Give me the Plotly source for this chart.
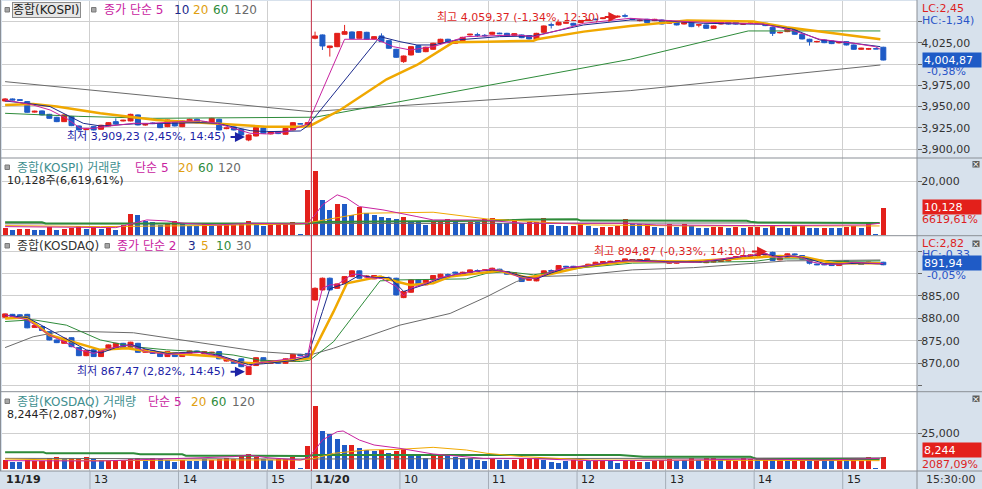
import plotly.graph_objects as go
from plotly.subplots import make_subplots

# ================= DATA =================
day1_times = [f"{h}:{m:02d}" for h in (12, 13, 14) for m in range(0, 60, 5)] + ["15:00", "15:05", "15:10", "15:15", "15:20", "15:30"]
day2_times = [f"{h}:{m:02d}" for h in range(9, 15) for m in range(0, 60, 5)] + ["15:00", "15:05", "15:10", "15:15", "15:20", "15:30"]
times = day1_times + day2_times
dates = ["11/19"] * len(day1_times) + ["11/20"] * len(day2_times)
xpos = list(range(len(times)))

kospi_open = [
    3956.6, 3959.0, 3958.2, 3955.9, 3943.5, 3944.9, 3940.9, 3937.4, 3932.3, 3938.2,
    3927.2, 3922.9, 3926.4, 3923.3, 3927.2, 3932.3, 3933.1, 3933.1, 3940.2, 3928.4,
    3930.7, 3929.6, 3926.4, 3933.5, 3926.4, 3932.3, 3935.1, 3932.3, 3930.3, 3935.1,
    3924.0, 3926.0, 3923.3, 3910.7, 3915.4, 3924.8, 3917.8, 3920.5, 3917.4, 3922.5,
    3929.8, 3928.4,
    4030.5, 4034.4, 4019.5, 4020.6, 4035.2, 4037.9, 4030.5, 4037.5, 4029.7, 4033.2,
    4027.7, 4017.5, 4003.0, 4010.8, 4021.8, 4014.7, 4017.5, 4024.6, 4029.3, 4024.6,
    4027.7, 4034.4, 4034.6, 4033.9, 4035.2, 4036.5, 4036.3, 4034.0, 4034.4, 4033.6,
    4029.3, 4037.5, 4046.4, 4046.2, 4048.1, 4048.1, 4048.9, 4051.6, 4053.0, 4053.6,
    4055.6, 4055.6, 4057.0, 4053.6, 4051.3, 4052.8, 4051.3, 4052.0, 4048.1, 4050.1,
    4047.3, 4049.3, 4046.0, 4046.2, 4042.2, 4047.3, 4049.7, 4049.7, 4047.1, 4047.9,
    4047.9, 4048.1, 4043.4, 4036.9, 4038.3, 4041.1, 4035.2, 4029.3, 4026.3, 4028.5,
    4027.3, 4025.1, 4026.5, 4022.6, 4017.5, 4017.7, 4018.1, 4019.9]
kospi_high = [
    3960.0, 3959.6, 3958.8, 3956.5, 3945.2, 3945.5, 3941.5, 3938.0, 3941.0, 3939.0,
    3927.8, 3924.2, 3927.0, 3928.6, 3931.8, 3936.2, 3934.5, 3941.6, 3940.8, 3929.8,
    3931.4, 3930.2, 3934.9, 3934.1, 3933.7, 3935.7, 3935.7, 3932.9, 3936.8, 3935.7,
    3925.4, 3926.6, 3923.9, 3917.2, 3925.8, 3925.4, 3921.1, 3921.1, 3925.0, 3931.7,
    3930.2, 3931.5,
    4038.3, 4035.0, 4021.6, 4036.5, 4046.2, 4038.5, 4038.9, 4038.1, 4033.0, 4036.3,
    4028.3, 4018.1, 4010.2, 4021.2, 4022.4, 4020.5, 4025.2, 4029.9, 4029.9, 4027.9,
    4032.2, 4035.8, 4037.0, 4035.5, 4038.1, 4037.1, 4036.9, 4036.5, 4035.0, 4034.2,
    4036.9, 4045.6, 4049.0, 4049.9, 4049.9, 4048.7, 4051.9, 4052.6, 4053.6, 4055.0,
    4057.0, 4057.4, 4059.37, 4054.2, 4052.9, 4053.4, 4053.4, 4052.6, 4051.5, 4050.7,
    4049.9, 4049.9, 4047.3, 4046.8, 4045.6, 4050.3, 4050.3, 4050.3, 4048.5, 4049.1,
    4049.1, 4048.7, 4044.0, 4038.3, 4042.0, 4041.7, 4035.8, 4029.9, 4027.5, 4029.1,
    4027.9, 4026.3, 4027.1, 4023.2, 4019.3, 4019.1, 4018.4, 4020.5]
kospi_low = [
    3955.8, 3957.2, 3956.9, 3942.8, 3942.9, 3939.6, 3935.6, 3931.7, 3931.8, 3927.0,
    3921.8, 3922.3, 3921.9, 3922.8, 3926.8, 3929.0, 3932.5, 3932.6, 3927.8, 3927.5,
    3929.4, 3924.6, 3925.8, 3926.6, 3925.8, 3931.7, 3930.5, 3930.9, 3929.7, 3921.9,
    3923.4, 3921.9, 3916.0, 3909.23, 3914.8, 3918.0, 3917.2, 3917.6, 3916.8, 3921.9,
    3929.4, 3928.0,
    4029.3, 4016.7, 4008.9, 4020.0, 4034.8, 4029.6, 4029.9, 4028.8, 4029.1, 4026.0,
    4018.1, 4007.5, 4001.5, 4010.2, 4013.4, 4014.1, 4016.9, 4024.0, 4024.7, 4024.0,
    4027.1, 4033.8, 4032.0, 4032.3, 4034.6, 4035.3, 4032.6, 4033.4, 4030.6, 4029.1,
    4028.7, 4036.9, 4042.0, 4045.6, 4047.5, 4045.2, 4048.3, 4051.0, 4051.8, 4053.0,
    4054.8, 4055.0, 4055.0, 4052.2, 4050.3, 4048.3, 4050.7, 4046.7, 4047.5, 4045.6,
    4046.7, 4043.6, 4043.4, 4041.6, 4041.6, 4046.7, 4046.7, 4046.7, 4046.3, 4047.1,
    4047.1, 4044.8, 4033.2, 4036.1, 4037.7, 4034.6, 4029.1, 4021.8, 4025.5, 4024.7,
    4023.6, 4024.3, 4022.0, 4016.9, 4016.9, 4016.9, 4017.8, 4004.4]
kospi_close = [
    3959.0, 3957.8, 3957.4, 3943.3, 3944.5, 3940.2, 3936.2, 3932.3, 3940.2, 3927.6,
    3922.5, 3923.5, 3922.5, 3928.0, 3931.1, 3929.6, 3933.9, 3940.9, 3928.4, 3928.8,
    3930.0, 3925.2, 3934.3, 3927.2, 3933.1, 3935.1, 3931.1, 3931.5, 3936.2, 3922.5,
    3924.8, 3922.5, 3916.6, 3916.6, 3925.2, 3918.6, 3920.5, 3918.2, 3924.4, 3931.1,
    3929.6, 3931.1,
    4033.2, 4021.4, 4021.4, 4036.3, 4038.3, 4030.1, 4038.3, 4029.3, 4032.4, 4026.5,
    4018.7, 4008.1, 4009.6, 4020.6, 4014.0, 4019.9, 4024.6, 4029.3, 4025.3, 4027.3,
    4031.6, 4035.2, 4034.2, 4033.5, 4037.5, 4035.9, 4033.2, 4035.9, 4031.2, 4029.7,
    4036.3, 4045.0, 4046.0, 4049.3, 4049.3, 4045.8, 4051.3, 4052.0, 4052.4, 4054.4,
    4056.0, 4056.4, 4056.6, 4052.8, 4051.7, 4048.9, 4052.8, 4047.3, 4050.9, 4046.2,
    4049.3, 4044.2, 4046.4, 4042.2, 4045.0, 4049.7, 4047.3, 4047.3, 4047.5, 4048.3,
    4048.3, 4045.4, 4036.3, 4037.3, 4041.4, 4035.2, 4029.7, 4026.5, 4026.7, 4025.3,
    4024.2, 4025.5, 4022.6, 4017.5, 4018.7, 4018.1, 4018.0, 4004.87]

kosdaq_open = [
    880.25, 880.9, 880.8, 880.9, 878.0, 878.2, 877.05, 875.2, 874.45, 875.7,
    873.5, 871.7, 873.0, 871.5, 873.0, 873.35, 874.45, 873.6, 874.45, 872.45,
    872.8, 872.4, 871.5, 872.4, 871.5, 872.2, 872.75, 872.1, 872.3, 872.6,
    870.5, 870.5, 871.0, 867.5, 869.5, 871.25, 870.0, 870.5, 870.0, 870.4,
    872.0, 872.2,
    884.1, 886.34, 888.94, 886.7, 887.83, 889.3, 890.58, 889.2, 888.8, 889.2,
    889.0, 888.94, 884.63, 885.82, 888.57, 887.46, 888.57, 889.1, 889.75, 890.3,
    889.68, 890.2, 890.65, 890.65, 890.43, 890.95, 890.43, 890.0, 889.3, 888.5,
    888.35, 889.54, 890.65, 890.58, 891.6, 891.6, 891.55, 891.54, 892.06, 892.28,
    892.6, 892.75, 892.8, 893.0, 893.0, 892.8, 892.9, 892.9, 892.28, 892.28,
    892.6, 892.6, 892.6, 892.4, 892.55, 892.66, 892.8, 893.25, 893.4, 893.77,
    894.0, 894.1, 894.7, 893.03, 893.55, 894.35, 894.0, 893.03, 892.1, 892.1,
    892.06, 891.76, 892.85, 892.3, 892.1, 892.35, 892.2, 892.5]
kosdaq_high = [
    881.1, 881.0, 880.95, 881.0, 878.5, 878.3, 877.15, 875.3, 875.7, 875.8,
    873.6, 872.9, 873.1, 873.1, 874.2, 874.55, 874.55, 874.8, 874.55, 873.1,
    872.9, 872.5, 872.7, 872.5, 872.5, 872.85, 872.85, 872.7, 872.55, 872.7,
    871.1, 870.6, 871.1, 869.35, 871.35, 871.35, 870.7, 870.6, 871.1, 872.1,
    872.1, 872.3,
    886.9, 889.1, 889.1, 887.8, 889.4, 890.7, 890.7, 889.6, 889.65, 889.5,
    889.3, 889.05, 886.1, 888.7, 888.7, 888.7, 889.65, 889.95, 890.0, 890.4,
    890.4, 890.9, 890.9, 890.9, 891.3, 891.05, 890.53, 890.2, 889.4, 888.8,
    889.65, 890.7, 890.9, 891.86, 891.7, 891.7, 891.65, 892.16, 892.6, 892.76,
    892.85, 892.95, 893.35, 893.2, 893.2, 893.35, 893.0, 893.0, 892.76, 892.76,
    892.7, 892.7, 892.7, 892.6, 892.75, 893.13, 893.5, 893.87, 894.1, 894.25,
    894.47, 894.5, 894.87, 893.5, 894.47, 894.45, 894.1, 893.13, 892.2, 892.2,
    892.16, 892.76, 892.95, 892.4, 892.2, 892.6, 892.4, 892.6]
kosdaq_low = [
    880.15, 880.4, 880.45, 877.8, 877.9, 877.2, 875.1, 874.5, 874.35, 873.6,
    871.6, 871.6, 871.4, 871.4, 872.9, 873.25, 873.25, 873.5, 872.35, 872.35,
    872.1, 871.4, 871.4, 871.4, 871.4, 872.1, 872.35, 872.0, 872.2, 870.9,
    870.4, 869.9, 869.15, 867.47, 869.4, 870.1, 869.9, 869.9, 869.9, 870.3,
    871.6, 871.15,
    883.9, 886.2, 886.2, 886.6, 887.7, 889.2, 888.8, 889.0, 888.7, 888.8,
    888.7, 885.1, 884.5, 885.7, 887.35, 887.35, 888.45, 889.0, 889.4, 890.0,
    889.6, 890.1, 890.3, 890.55, 890.33, 890.33, 889.73, 889.9, 888.1, 888.4,
    888.25, 889.44, 890.4, 890.48, 891.35, 891.35, 891.3, 891.44, 891.96, 892.18,
    892.5, 892.65, 892.7, 892.9, 892.9, 892.7, 892.65, 892.65, 892.18, 892.18,
    892.4, 892.4, 892.4, 892.3, 892.45, 892.56, 892.7, 893.15, 893.3, 893.67,
    893.9, 894.0, 892.8, 892.93, 893.45, 894.1, 893.08, 892.0, 891.85, 891.85,
    891.66, 891.66, 892.6, 892.1, 891.9, 892.25, 892.1, 891.84]
kosdaq_close = [
    881.0, 880.5, 880.6, 877.9, 878.4, 877.3, 875.2, 874.6, 875.6, 873.7,
    871.7, 872.8, 871.5, 873.0, 874.1, 874.45, 873.35, 874.7, 872.45, 873.0,
    872.2, 871.5, 872.6, 871.5, 872.4, 872.75, 872.45, 872.6, 872.45, 871.0,
    871.0, 870.0, 869.25, 869.25, 871.25, 870.2, 870.6, 870.0, 871.0, 872.0,
    871.7, 871.25,
    886.7, 888.94, 886.34, 887.68, 889.3, 890.58, 888.94, 889.4, 889.54, 889.0,
    888.9, 885.23, 885.97, 888.57, 887.46, 888.57, 889.54, 889.83, 889.6, 890.1,
    890.28, 890.8, 890.5, 890.8, 891.17, 890.43, 889.83, 890.1, 888.2, 888.65,
    889.54, 890.58, 890.5, 891.76, 891.45, 891.45, 891.4, 892.06, 892.5, 892.66,
    892.7, 892.85, 893.25, 893.1, 893.1, 893.25, 892.75, 892.75, 892.66, 892.66,
    892.5, 892.5, 892.5, 892.5, 892.65, 893.03, 893.4, 893.77, 894.0, 894.15,
    894.37, 894.3, 892.9, 893.4, 894.37, 894.2, 893.18, 892.28, 891.95, 891.95,
    891.76, 892.66, 892.7, 892.2, 892.0, 892.5, 892.3, 891.94]

kospi_volume = [
    2900, 2040, 2410, 2530, 2160, 2100, 3150, 2160, 2410, 2660,
    3520, 2410, 3150, 2410, 2780, 2160, 3890, 7970, 7600, 5370,
    5130, 3890, 4750, 5370, 4750, 3640, 3600, 4260, 3640, 3700,
    3760, 3820, 4500, 5370, 4140, 3640, 3700, 4380, 4500, 5000,
    560, 16860,
    23650, 13150, 9450, 11670, 11500, 7600, 10440, 8210, 7600, 6850,
    6610, 6110, 6850, 5370, 5130, 3890, 4900, 5000, 6110, 5370,
    4500, 5130, 4880, 6110, 6610, 4500, 4450, 6110, 4500, 4880,
    4950, 6360, 3890, 3640, 3600, 3640, 4140, 3640, 2900, 2950,
    3270, 3350, 6110, 4140, 4100, 4180, 3150, 2900, 4140, 3270,
    4140, 3640, 2900, 2880, 3150, 3180, 2900, 3150, 2900, 3150,
    3180, 2900, 3640, 2900, 2880, 3520, 3540, 2900, 2880, 2920,
    2900, 2880, 3270, 3520, 2900, 4880, 430, 10128]
kospi_volume_dir = ("rbrrbbrbrrrbrbrbrrbbbbrrbbbrbrrrrrbbrrrrbr"
                    "rbbrbbrbbbbbrbbbrrrbbrbr"
                    "rbbrbrrrbbbrrbbrrrrbbrbbrbrbbbrrbrbrrbrbbrrbbrbbrrbrbr")
kosdaq_volume = [
    6300, 4670, 4600, 6300, 5600, 5830, 7470, 8170, 6770, 7470,
    7470, 8170, 6770, 6300, 5830, 5830, 5830, 6770, 7470, 5830,
    7470, 6770, 6300, 5130, 6300, 5600, 5600, 6770, 6300, 6770,
    7470, 6770, 9100, 10270, 8640, 6770, 6300, 6770, 6770, 8170,
    470, 16100,
    44100, 26840, 24270, 21000, 16800, 16800, 14470, 13300, 12840, 13300,
    11440, 12600, 13770, 10270, 10270, 7470, 9100, 9100, 9100, 8640,
    7470, 7470, 6300, 5830, 6770, 6300, 6300, 6300, 7000, 7000,
    7940, 6300, 5130, 4430, 5830, 6300, 5830, 5830, 5600, 5830,
    5600, 4430, 6300, 5830, 4900, 5130, 5830, 6300, 7000, 5600,
    6300, 7470, 6300, 7940, 7940, 6300, 6300, 5830, 7470, 7000,
    6300, 7000, 6300, 6300, 5830, 5830, 6300, 6300, 6300, 6300,
    6300, 6300, 6300, 6300, 5830, 8640, 930, 8244]
kosdaq_volume_dir = ("rbbrrrrrbrrrbbrrrrrbrbbbrbbbrrrrrrrbbrrrbr"
                     "rbbbbrbbbrbrrbbbrrbbbbbb"
                     "rbbrrrrbbbbrrbrrbbrrrbrrrbbrbrrbrrrrbrbrbrrbrbbrbrrrbr")

# moving averages (candle index, value)
kospi_ma5_x = [0, 3.8, 6.1, 8.3, 10.2, 12, 14.2, 17.4, 19.6, 21.9, 26.4, 28.7, 30.9, 33.2, 35.4, 38.2, 40, 41, 46, 50.3,
               52.6, 54.9, 58, 60.3, 62.5, 69.3, 71.6, 75.2, 78.4, 84.7, 92.4, 102.7, 106.8, 110.4, 115, 117.9, 118.6]
kospi_ma5_y = [3957.8, 3951.9, 3946.0, 3936.2, 3924.4, 3924.4, 3927.2, 3930.3, 3930.3, 3931.1, 3933.5, 3930.3, 3924.4,
               3918.6, 3917.8, 3920.5, 3926.4, 3929.6, 4029.3, 4029.3, 4020.6, 4016.7, 4020.6, 4026.5, 4032.4, 4034.4,
               4032.4, 4040.3, 4048.1, 4054.0, 4050.1, 4047.3, 4039.5, 4029.3, 4024.6, 4020.6, 4017.5]
kospi_ma10_x = [0, 2.9, 6.1, 8.3, 10.6, 12.9, 17.4, 21.9, 26.4, 28.7, 30.9, 33.2, 35.4, 40, 41, 50.8, 53.5, 55.8, 58,
                61.2, 67, 71.6, 78.4, 84.7, 87.8, 94.6, 102.7, 106.8, 110.4, 115, 118.6]
kospi_ma10_y = [3956.6, 3953.9, 3950.0, 3940.2, 3930.3, 3927.2, 3929.6, 3930.3, 3931.1, 3930.3, 3926.4, 3921.7, 3920.5,
                3921.3, 3927.2, 4032.4, 4026.5, 4022.6, 4022.6, 4028.5, 4032.4, 4033.2, 4046.2, 4052.0, 4052.0, 4048.1,
                4047.0, 4041.1, 4028.5, 4024.6, 4020.6]
kospi_ma20_x = [0, 3.8, 7, 12.9, 20.5, 27.3, 35.4, 40, 41.3, 45.4, 51.7, 55.8, 60.7, 65.3, 71.6, 72.1, 78.4, 84.7,
                92.4, 101.4, 105.9, 118.6]
kospi_ma20_y = [3951.9, 3953.1, 3950.0, 3942.1, 3934.3, 3931.1, 3926.4, 3926.4, 3927.2, 3946.0, 3982.2, 3999.0, 4025.7,
                4026.5, 4027.7, 4029.3, 4038.3, 4045.0, 4051.3, 4050.1, 4043.4, 4029.3]
kospi_ma60_x = [0, 10, 20, 41, 42, 84.7, 100.7, 118.6]
kospi_ma60_y = [3942.1, 3938.5, 3936.2, 3936.9, 3937.5, 4005.7, 4039.1, 4039.1]
kospi_ma120_x = [0, 41.3, 84.7, 118.6]
kospi_ma120_y = [3979.4, 3944.1, 3968.8, 3999.0]

kosdaq_ma2_x = [0, 3, 4.3, 6, 8, 10, 12, 14.2, 17, 19, 22, 26.4, 29.1, 31.8, 33, 34, 36, 39, 41, 42,
                43, 44, 45, 46, 47, 48, 49, 51, 53, 54, 55, 57, 59, 62, 64, 66, 68, 70, 72, 74,
                76, 79, 81, 84, 87, 90, 94, 97, 101, 103, 104, 105, 106, 108, 109, 111, 113, 115, 117, 119]
kosdaq_ma2_y = [880.8, 879.65, 878.2, 876.3, 874.8, 873.0, 872.2, 873.35, 874.1, 872.6,
                872.0, 872.4, 871.5, 870.0, 869.25, 870.0, 870.4, 871.1, 871.7, 880.0,
                886.7, 887.46, 887.5, 888.7, 889.8, 889.8, 889.1, 888.9, 887.1, 885.0,
                886.7, 887.8, 889.1, 890.06, 890.58, 890.95, 890.3, 888.94, 888.94, 890.4,
                891.3, 891.76, 892.28, 892.8, 892.66, 892.5, 892.5, 893.25, 894.0, 894.5,
                893.77, 893.55, 894.0, 893.55, 892.66, 892.06, 892.06, 892.5, 892.3, 892.2]
kosdaq_ma3_x = [0, 3, 5, 7, 9, 11, 13, 15, 17, 19, 22, 26, 29, 31, 33, 35, 37, 39, 41, 42,
                43, 44, 46, 48, 50, 52, 53, 54, 55, 57, 59, 61, 64, 66, 68, 70, 72, 74, 76, 79,
                82, 85, 90, 94, 97, 100, 103, 105, 107, 109, 111, 113, 116, 119]
kosdaq_ma3_y = [880.7, 880.2, 878.4, 876.6, 874.9, 873.0, 872.3, 873.5, 874.2, 873.2,
                872.2, 872.5, 871.8, 870.8, 869.7, 869.9, 870.3, 870.6, 871.5, 876.3,
                881.5, 886.6, 887.7, 889.6, 889.1, 889.1, 887.7, 886.0, 886.5, 887.6,
                888.9, 889.8, 890.5, 890.8, 890.4, 889.4, 888.8, 890.1, 891.2, 891.7,
                892.5, 893.0, 892.6, 892.6, 893.0, 893.8, 894.3, 893.7, 893.9, 893.2,
                892.2, 892.1, 892.3, 892.1]
kosdaq_ma5_x = [0, 3, 6, 9.7, 12.9, 16.5, 19.6, 24.2, 28.7, 31.8, 33.6, 37.7, 41.3, 44.5, 46.3, 50.8, 53, 54.9, 58,
                60.3, 67, 70.7, 73.8, 78.4, 85, 92.4, 101.4, 105, 108.6, 112.2, 118.6]
kosdaq_ma5_y = [880.0, 880.2, 876.3, 874.45, 873.0, 873.35, 872.6, 872.0, 871.5, 870.2, 870.0, 870.5, 871.1, 881.5,
                887.8, 889.3, 888.2, 887.46, 887.83, 889.3, 890.58, 889.1, 889.83, 891.54, 892.8, 892.66, 893.55,
                893.9, 893.55, 892.3, 892.3]
kosdaq_ma10_x = [0, 3.8, 8.3, 12.9, 17.4, 21.9, 26.4, 30.9, 34.5, 40, 41.3, 44.5, 50.8, 53.5, 62.5, 65.3, 68, 71.6,
                 78.4, 85, 101.4, 104, 108.6, 112.7, 118.6]
kosdaq_ma10_y = [879.3, 879.7, 878.5, 875.2, 873.7, 873.0, 872.6, 871.85, 870.7, 870.4, 870.7, 874.8, 888.35, 888.57,
                 888.8, 890.06, 890.4, 889.7, 891.3, 892.3, 892.66, 893.25, 893.25, 892.66, 892.8]
kosdaq_ma30_x = [0, 3.8, 7.4, 11.5, 17.4, 24.1, 28.7, 34.5, 40, 41.3, 44.5, 53.5, 60.3, 65.3, 69.3, 71.6, 77.4, 85,
                 93.3, 101.4, 105.9, 118.6]
kosdaq_ma30_y = [873.5, 875.9, 877.05, 877.05, 876.8, 875.2, 874.1, 872.6, 872.0, 871.85, 873.35, 878.5, 881.1,
                 884.85, 888.2, 889.3, 889.54, 890.8, 891.3, 892.3, 892.8, 893.0]

kospi_vma5_x = [0, 15, 17.4, 19.2, 21.9, 24.2, 28.7, 33.2, 39, 41, 42, 43, 45, 46.3, 48, 51.2, 55.8, 58, 64.8, 70.2,
                83.8, 88.3, 101.8, 110.9, 116.6, 118.5]
kospi_vma5_y = [3270, 2900, 4500, 5740, 5370, 4500, 3890, 4500, 4260, 4500, 7600, 11300, 15000, 13770, 10680, 9450,
                6980, 5740, 5740, 4500, 4500, 3890, 3640, 3640, 3890, 4500]
kospi_vma20_x = [0, 12.9, 26.4, 40, 42, 44.5, 48.5, 58, 62.5, 65.3, 79.3, 92.8, 118.5]
kospi_vma20_y = [3640, 3270, 3640, 4260, 5130, 6360, 8210, 8580, 6980, 6100, 3890, 3520, 3520]
kospi_vma60_x = [0, 5, 5.5, 40, 41, 42, 65.3, 71, 77.5, 78, 100.5, 101, 102, 118.5]
kospi_vma60_y = [4880, 4880, 4400, 4200, 4450, 5000, 5400, 5900, 5950, 5500, 5450, 5100, 4800, 4650]
kospi_vma120_x = [0, 41, 42, 118.5]
kospi_vma120_y = [4300, 4200, 4400, 4700]

kosdaq_vma5_x = [0, 12.9, 31, 33, 35.5, 40, 41, 42, 43, 45, 45.8, 48, 50, 53.5, 58, 64.8, 70.2, 79.3, 92.8, 101.8,
                 110.9, 116.6, 118.5]
kosdaq_vma5_y = [5840, 5600, 8640, 9800, 7940, 6300, 7470, 13300, 20300, 26140, 26600, 20300, 16800, 14470, 10500,
                 7470, 7470, 5840, 6300, 7000, 6300, 7470, 7470]
kosdaq_vma20_x = [0, 12.9, 26.4, 40, 42, 44.5, 49, 53.5, 58, 62.5, 65.3, 70.2, 79.3, 101.8, 118.5]
kosdaq_vma20_y = [7000, 5840, 6300, 6300, 7470, 10970, 13300, 13770, 15170, 13300, 10970, 8640, 6300, 5840, 5840]
kosdaq_vma60_x = [0, 5.2, 5.6, 17.4, 18.3, 24, 24.5, 41, 42, 83.3, 86.5, 101, 101.8, 118.5]
kosdaq_vma60_y = [11670, 11670, 10970, 10970, 10270, 10270, 9340, 9100, 9800, 9800, 8640, 8640, 7000, 7000]
kosdaq_vma120_x = [0, 41, 119]
kosdaq_vma120_y = [7470, 7000, 7800]

kospi_ticks = [3900, 3925, 3950, 3975, 4000, 4025, 4050]
kospi_tick_hidden = [4000, 4050]
kosdaq_ticks = [865, 870, 875, 880, 885, 890, 895]
kosdaq_tick_hidden = [865, 890, 895]
kospi_vol_ticks = [20000]
kosdaq_vol_ticks = [25000]

kospi_change_text = "-0,38%"
kosdaq_change_text = "-0,05%"
kospi_vol_text = "10,128주(6,619,61%)"
kospi_vol_ratio = "6619,61%"
kosdaq_vol_text = "8,244주(2,087,09%)"
kosdaq_vol_ratio = "2087,09%"
last_time = "15:30:00"

# ================= STYLE / GEOMETRY =================
FONT = "DejaVu Sans, Noto Sans CJK KR, sans-serif"
W, H = 982, 489
ML, MR = 2, 65
PW = W - ML - MR
X0_PX, DX_PX = 5.1, 7.38
UP, DN = "#e3201b", "#1f5bc6"
MAG, NAVY, ORG, GRN, GRY = "#c8229f", "#1b2a8c", "#f0a800", "#2e8b3a", "#6a6a6a"
TEAL = "#3f8f8f"
RED_T, BLUE_T = "#dd1f1f", "#2a55c8"
GRID = "#cfcfcf"
SEP = "#8a8f96"
PANEL_BG = "#d7e1ec"


def px_x(px):
    return (px - ML) / PW


def px_y(py):
    return 1 - py / H


def data_to_px(i):
    return X0_PX + DX_PX * i


def kfmt(v, d=2):
    return f"{v:,.{d}f}".replace(".", ",")


XR = [(ML - X0_PX) / DX_PX, (W - MR - X0_PX) / DX_PX]
D1 = [px_y(158), px_y(1)]
D2 = [px_y(235.7), px_y(158)]
D3 = [px_y(391.7), px_y(235.7)]
D4 = [px_y(471), px_y(391.7)]
R1 = [3889.46, 4074.38]
R2 = [-80, 28600]
R3 = [863.68, 898.41]
R4 = [-1400, 54130]

fig = make_subplots(rows=4, cols=1, shared_xaxes=True, vertical_spacing=0)

# ----- candles -----
for r, (o, h, l, c) in ((1, (kospi_open, kospi_high, kospi_low, kospi_close)),
                        (3, (kosdaq_open, kosdaq_high, kosdaq_low, kosdaq_close))):
    fig.add_trace(go.Candlestick(
        x=xpos, open=o, high=h, low=l, close=c, whiskerwidth=0,
        increasing=dict(line=dict(color=UP, width=1), fillcolor=UP),
        decreasing=dict(line=dict(color=DN, width=1), fillcolor=DN),
        hoverinfo="skip", showlegend=False), row=r, col=1)


def add_line(xs, ys, color, width, row):
    fig.add_trace(go.Scatter(x=xs, y=ys, mode="lines", line=dict(color=color, width=width),
                             hoverinfo="skip", showlegend=False), row=row, col=1)


add_line(kospi_ma120_x, kospi_ma120_y, GRY, 1, 1)
add_line(kospi_ma60_x, kospi_ma60_y, GRN, 1, 1)
add_line(kospi_ma20_x, kospi_ma20_y, ORG, 2.5, 1)
add_line(kospi_ma10_x, kospi_ma10_y, NAVY, 1, 1)
add_line(kospi_ma5_x, kospi_ma5_y, MAG, 1, 1)

add_line(kosdaq_ma30_x, kosdaq_ma30_y, GRY, 1, 3)
add_line(kosdaq_ma10_x, kosdaq_ma10_y, GRN, 1, 3)
add_line(kosdaq_ma5_x, kosdaq_ma5_y, ORG, 2.5, 3)
add_line(kosdaq_ma3_x, kosdaq_ma3_y, NAVY, 1, 3)
add_line(kosdaq_ma2_x, kosdaq_ma2_y, MAG, 1, 3)

# ----- volume -----
for r, vol, dirs in ((2, kospi_volume, kospi_volume_dir), (4, kosdaq_volume, kosdaq_volume_dir)):
    fig.add_trace(go.Bar(x=xpos, y=vol, width=0.68,
                         marker=dict(color=[UP if d == "r" else DN for d in dirs], line=dict(width=0)),
                         hoverinfo="skip", showlegend=False), row=r, col=1)

add_line(kospi_vma120_x, kospi_vma120_y, GRY, 1, 2)
add_line(kospi_vma60_x, kospi_vma60_y, GRN, 2, 2)
add_line(kospi_vma20_x, kospi_vma20_y, ORG, 1, 2)
add_line(kospi_vma5_x, kospi_vma5_y, MAG, 1, 2)
add_line(kosdaq_vma120_x, kosdaq_vma120_y, GRY, 1, 4)
add_line(kosdaq_vma60_x, kosdaq_vma60_y, GRN, 2, 4)
add_line(kosdaq_vma20_x, kosdaq_vma20_y, ORG, 1, 4)
add_line(kosdaq_vma5_x, kosdaq_vma5_y, MAG, 1, 4)

# ----- hour boundaries -----
boundaries = []
for i in range(1, len(times)):
    if dates[i] != dates[i - 1]:
        boundaries.append((i - 0.5, dates[i], True))
    elif times[i].endswith(":00"):
        boundaries.append((i - 0.5, times[i].split(":")[0], False))
grid_x = [b[0] for b in boundaries]

xcommon = dict(range=XR, showgrid=True, gridcolor=GRID, gridwidth=1, tickmode="array", tickvals=grid_x,
               showticklabels=False, ticks="", zeroline=False, showline=False, fixedrange=True,
               rangeslider=dict(visible=False))
ycommon = dict(side="right", showgrid=True, gridcolor=GRID, gridwidth=1, zeroline=False, showline=False,
               ticks="outside", ticklen=4, tickcolor="#6a6a6a", tickfont=dict(family=FONT, size=11, color="#333333"),
               ticklabelstandoff=-3, tickmode="array", fixedrange=True)


def tick_texts(vals, hidden, d):
    return ["" if v in hidden else kfmt(v, d) for v in vals]


fig.update_layout(
    xaxis=dict(xcommon), xaxis2=dict(xcommon), xaxis3=dict(xcommon), xaxis4=dict(xcommon),
    yaxis=dict(ycommon, domain=D1, range=R1, tickvals=kospi_ticks, ticktext=tick_texts(kospi_ticks, kospi_tick_hidden, 2)),
    yaxis2=dict(ycommon, domain=D2, range=R2, tickvals=kospi_vol_ticks, ticktext=tick_texts(kospi_vol_ticks, [], 0)),
    yaxis3=dict(ycommon, domain=D3, range=R3, tickvals=kosdaq_ticks, ticktext=tick_texts(kosdaq_ticks, kosdaq_tick_hidden, 2)),
    yaxis4=dict(ycommon, domain=D4, range=R4, tickvals=kosdaq_vol_ticks, ticktext=tick_texts(kosdaq_vol_ticks, [], 0)),
)

# ----- shapes -----
shapes = []
for py in (158, 235.7, 391.7, 471):
    shapes.append(dict(type="line", xref="paper", yref="paper", x0=px_x(0), x1=px_x(W), y0=px_y(py), y1=px_y(py),
                       line=dict(color=SEP, width=1), layer="above"))
shapes.append(dict(type="line", xref="paper", yref="paper", x0=1, x1=1, y0=0, y1=1,
                   line=dict(color=SEP, width=1), layer="above"))
shapes.append(dict(type="line", xref="paper", yref="paper", x0=px_x(0.5), x1=px_x(0.5), y0=px_y(471), y1=1,
                   line=dict(color=SEP, width=1), layer="above"))
for b in boundaries:
    shapes.append(dict(type="line", xref="x", yref="paper", x0=b[0], x1=b[0], y0=0, y1=px_y(471),
                       line=dict(color="#a4adb8", width=1), layer="above"))
    if b[2]:
        shapes.append(dict(type="line", xref="x", yref="paper", x0=b[0], x1=b[0], y0=px_y(471), y1=1,
                           line=dict(color="#c8324b", width=1), layer="above"))
# legend marker squares and close icons
for (x0, y0) in ((5, 7.5), (91.5, 7.5), (5, 165), (5, 243.5), (105, 243.5), (5, 399)):
    shapes.append(dict(type="rect", xref="paper", yref="paper", x0=px_x(x0), x1=px_x(x0 + 4.5),
                       y0=px_y(y0 + 4.5), y1=px_y(y0), fillcolor="#a6a6a6", line=dict(color="#7a7a7a", width=1)))
for y0 in (161, 240.5, 395.5):
    shapes.append(dict(type="rect", xref="paper", yref="paper", x0=px_x(972.5), x1=px_x(979.5),
                       y0=px_y(y0 + 6.5), y1=px_y(y0), fillcolor="#5b5b5b", line=dict(width=0)))
fig.update_layout(shapes=shapes)

# ----- annotations -----
ann = []


def txt(px, py, text, color, size=11, anchor="left", **kw):
    d = dict(x=px_x(px), y=px_y(py), xref="paper", yref="paper", text=text, showarrow=False,
             xanchor=anchor, yanchor="middle", font=dict(family=FONT, size=size, color=color))
    d.update(kw)
    ann.append(d)


# panel legends
txt(12, 10, "종합(KOSPI)", "#222222", size=12, bgcolor="#e6e6e6", bordercolor="#8c8c8c", borderwidth=1, borderpad=0)
for px, t, col in ((102, "종가 단순 5", MAG), (172, "10", NAVY), (191, "20", "#e0a010"), (211, "60", GRN), (232, "120", GRY)):
    txt(px, 10, t, col, size=12)
txt(15, 167.5, "종합(KOSPI) 거래량", TEAL, size=12)
for px, t, col in ((133, "단순 5", MAG), (176, "20", "#e0a010"), (196, "60", GRN), (216, "120", GRY)):
    txt(px, 167.5, t, col, size=12)
txt(5, 180.5, kospi_vol_text, "#222222")
txt(15, 246, "종합(KOSDAQ)", "#333333", size=12)
for px, t, col in ((115, "종가 단순 2", MAG), (186, "3", NAVY), (199, "5", "#e0a010"), (214, "10", GRN), (234, "30", GRY)):
    txt(px, 246, t, col, size=12)
txt(15, 401.5, "종합(KOSDAQ) 거래량", TEAL, size=12)
for px, t, col in ((146, "단순 5", MAG), (189, "20", "#e0a010"), (209, "60", GRN), (230, "120", GRY)):
    txt(px, 401.5, t, col, size=12)
txt(5, 414, kosdaq_vol_text, "#222222")

# high / low markers
def extreme_marks(xref, yref, highs, lows, closes, hi_off, lo_off):
    i_hi = max(range(len(highs)), key=lambda k: highs[k])
    i_lo = min(range(len(lows)), key=lambda k: lows[k])
    hv, lv, last = highs[i_hi], lows[i_lo], closes[-1]
    hc = (last / hv - 1) * 100
    lc = (last / lv - 1) * 100
    y_hi = hv + hi_off[2]
    y_lo = lv + lo_off[2]
    ann.append(dict(x=i_hi + hi_off[0], y=y_hi, xref=xref, yref=yref, showarrow=False, xanchor="right",
                    yanchor="middle", text=f"최고 {kfmt(hv)} ({kfmt(hc)}%, {times[i_hi]})",
                    font=dict(family=FONT, size=11, color=RED_T)))
    ann.append(dict(x=i_hi + hi_off[1], y=y_hi, ax=i_hi + hi_off[0] + 0.3, ay=y_hi, xref=xref, yref=yref,
                    axref=xref, ayref=yref, text="", showarrow=True, arrowhead=2, arrowsize=1, arrowwidth=2,
                    arrowcolor=RED_T, standoff=0, startstandoff=0))
    ann.append(dict(x=i_lo + lo_off[0], y=y_lo, xref=xref, yref=yref, showarrow=False, xanchor="right",
                    yanchor="middle", text=f"최저 {kfmt(lv)} ({kfmt(lc)}%, {times[i_lo]})",
                    font=dict(family=FONT, size=11, color="#1c23a6")))
    ann.append(dict(x=i_lo + lo_off[1], y=y_lo, ax=i_lo + lo_off[0] + 0.3, ay=y_lo, xref=xref, yref=yref,
                    axref=xref, ayref=yref, text="", showarrow=True, arrowhead=2, arrowsize=1, arrowwidth=2,
                    arrowcolor="#1c23a6", standoff=0, startstandoff=0))
    return lc, hc


lc1, hc1 = extreme_marks("x", "y", kospi_high, kospi_low, kospi_close, (-3.25, -0.9, -3.9), (-2.95, -0.5, 5.0))
lc3, hc3 = extreme_marks("x3", "y3", kosdaq_high, kosdaq_low, kosdaq_close, (-3.3, -0.75, 0.0), (-2.95, -0.5, 0.66))

# right side labels
txt(920, 8.5, f"LC:{kfmt(lc1)}", RED_T)
txt(920, 20.5, f"HC:{kfmt(hc1)})", BLUE_T)
ann.append(dict(x=px_x(922), y=kospi_close[-1], xref="paper", yref="y", xanchor="left", yanchor="middle",
                text=kfmt(kospi_close[-1]), showarrow=False, bgcolor=DN, width=56, height=12, align="left",
                borderpad=1, font=dict(family=FONT, size=11, color="white")))
txt(925, 71.5, kospi_change_text, BLUE_T)
ann.append(dict(x=px_x(922), y=kospi_volume[-1], xref="paper", yref="y2", xanchor="left", yanchor="middle",
                text=f"{kospi_volume[-1]:,}", showarrow=False, bgcolor=UP, width=56, height=12, align="left",
                borderpad=1, yshift=1.5, font=dict(family=FONT, size=11, color="white")))
txt(920, 220, kospi_vol_ratio, RED_T)
txt(920, 243.5, f"LC:{kfmt(lc3)}", RED_T)
txt(920, 254, f"HC:{kfmt(hc3)}", BLUE_T)
ann.append(dict(x=px_x(922), y=kosdaq_close[-1], xref="paper", yref="y3", xanchor="left", yanchor="middle",
                text=kfmt(kosdaq_close[-1]), showarrow=False, bgcolor=DN, width=56, height=12, align="left",
                borderpad=1, yshift=1.5, font=dict(family=FONT, size=11, color="white")))
txt(925, 275.5, kosdaq_change_text, BLUE_T)
ann.append(dict(x=px_x(922), y=kosdaq_volume[-1], xref="paper", yref="y4", xanchor="left", yanchor="middle",
                text=f"{kosdaq_volume[-1]:,}", showarrow=False, bgcolor=UP, width=56, height=12, align="left",
                borderpad=1, yshift=7, font=dict(family=FONT, size=11, color="white")))
txt(920, 464, kosdaq_vol_ratio, RED_T)
txt(924, 479.5, last_time, "#333333")
for py in (164.2, 243.7, 398.7):
    txt(976, py, "×", "white", size=9, anchor="center")

# bottom time labels
txt(4, 479.5, f"<b>{dates[0]}</b>", "#222222")
for b in boundaries:
    label = f"<b>{b[1]}</b>" if b[2] else b[1]
    txt(data_to_px(b[0]) + 2, 479.5, label, "#222222")

fig.update_layout(
    annotations=ann,
    width=W, height=H, margin=dict(l=ML, r=MR, t=0, b=0, pad=0),
    paper_bgcolor=PANEL_BG, plot_bgcolor="white", showlegend=False,
    boxgap=0.1, boxgroupgap=0.25, bargap=0,
    font=dict(family=FONT, size=11),
)

fig.write_html("out.html", config={"displayModeBar": False, "staticPlot": True},
               post_script="document.body.style.margin='0px';document.body.style.padding='0px';document.body.style.overflow='hidden';")
